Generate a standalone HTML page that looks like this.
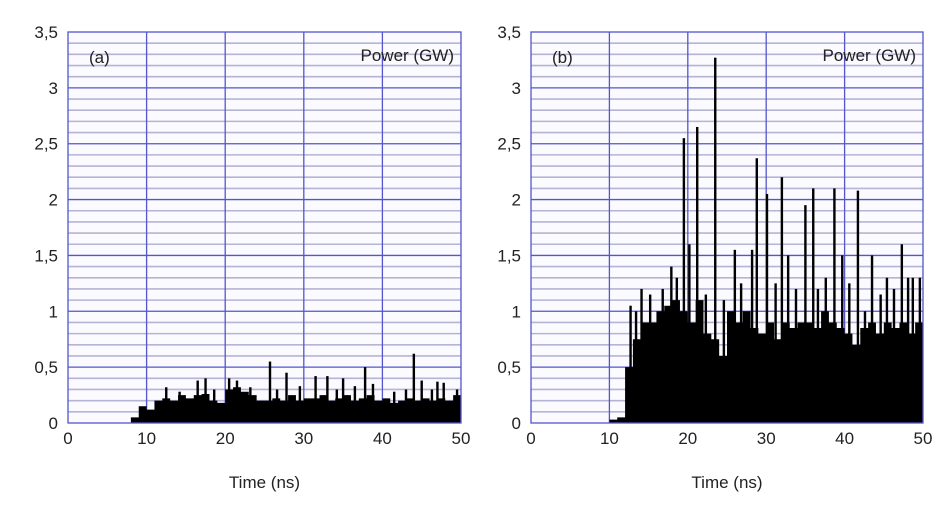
<!DOCTYPE html>
<html><head><meta charset="utf-8"><style>
body{margin:0;background:#fff;}
svg text{font-family:"Liberation Sans",Arial,sans-serif;font-size:17px;fill:#222;}
</style></head><body>
<svg id="chart" width="944" height="508" viewBox="0 0 944 508"></svg>
<script>
// ---- data ----
const xTicks=[0,10,20,30,40,50];
const yTicks=[0,0.5,1,1.5,2,2.5,3,3.5];
const yTickLabels=["0","0,5","1","1,5","2","2,5","3","3,5"];
// per-ns envelope (t = 0..49)
const baseA=[0,0,0,0,0,0,0,0,0.05,0.15,0.12,0.2,0.22,0.2,0.25,0.22,0.25,0.26,0.2,0.18,0.3,0.32,0.28,0.25,0.2,0.2,0.22,0.2,0.25,0.2,0.22,0.22,0.25,0.2,0.22,0.25,0.2,0.22,0.25,0.2,0.22,0.18,0.2,0.22,0.2,0.22,0.2,0.22,0.2,0.25];
const spikeTA=[12.5,14.2,16.5,17.5,18.6,20.5,21.5,23.2,25.7,26.6,27.8,29.5,31.5,33,34.2,35,36.5,37.8,38.8,41.5,43,44,45,46.3,47,47.8,49.5];
const spikeVA=[0.32,0.28,0.38,0.4,0.3,0.4,0.38,0.32,0.55,0.3,0.45,0.33,0.42,0.42,0.3,0.4,0.33,0.5,0.35,0.28,0.3,0.62,0.38,0.3,0.37,0.36,0.3];
const baseB=[0,0,0,0,0,0,0,0,0,0,0.03,0.05,0.5,0.75,0.9,0.9,1.0,1.05,1.1,1.0,0.9,1.1,0.8,0.75,0.6,1.0,0.9,1.0,0.85,0.8,0.9,0.75,0.9,0.85,0.9,0.9,0.85,1.0,0.9,0.85,0.8,0.7,0.85,0.9,0.8,0.9,0.85,0.9,0.8,0.9];
const spikeTB=[12.7,13.4,14.1,15.2,16.8,17.9,18.6,19.5,20.2,21.2,22.3,23.5,24.6,26,26.8,28.2,28.8,30.1,31.2,32,32.8,33.8,35,36,36.6,37.6,38.7,39.7,40.6,41.7,42.6,43.5,44.6,45.4,46.3,47.3,48.1,48.7,49.6];
const spikeVB=[1.05,1.0,1.2,1.15,1.2,1.4,1.3,2.55,1.6,2.65,1.15,3.27,1.1,1.55,1.25,1.55,2.37,2.05,1.25,2.2,1.5,1.2,1.95,2.1,1.2,1.3,2.1,1.5,1.25,2.08,1.0,1.5,1.15,1.3,1.2,1.6,1.3,1.3,1.3];

const NS="http://www.w3.org/2000/svg";
const svg=document.getElementById('chart');
function mk(tag,attrs,parent){const e=document.createElementNS(NS,tag);for(const k in attrs)e.setAttribute(k,attrs[k]);(parent||svg).appendChild(e);return e;}

function panel(x0,x1,label,base,sT,sV,key){
  const y0=423,y1=32;
  const X=t=>x0+(t/50)*(x1-x0);
  const Y=v=>y0-(v/3.5)*(y0-y1);
  const g=mk('g',{});
  
  
  mk('rect',{x:x0,y:y1,width:x1-x0,height:y0-y1,fill:'#fafaff'},g);
  for(let i=1;i<35;i++){
    const v=i*0.1;const major=(i%5===0);
    const l=mk('line',{x1:x0,x2:x1,y1:Y(v),y2:Y(v),stroke:major?'#5555cc':'#b4b4d4','stroke-width':major?1.3:1.6},g);
    
    
  }
  xTicks.forEach(t=>{
    if(t>0&&t<50){const l=mk('line',{x1:X(t),x2:X(t),y1:y1,y2:y0,stroke:'#5555cc','stroke-width':1.3},g);
    
    }
    const tx=mk('text',{x:X(t),y:444,'text-anchor':'middle'},g);tx.textContent=t;
    
    
  });
  yTicks.forEach((v,i)=>{
    const tx=mk('text',{x:x0-10,y:Y(v)+6,'text-anchor':'end'},g);tx.textContent=yTickLabels[i];
    
    
  });
  let d='M'+X(0)+','+Y(0);
  base.forEach((v,i)=>{d+=' L'+X(i)+','+Y(v)+' L'+X(i+1)+','+Y(v);});
  d+=' L'+X(50)+','+Y(0)+' Z';
  const a=mk('path',{d:d,fill:'#000'},g);
  
  
  sT.forEach((t,i)=>{
    const r=mk('rect',{x:Math.min(X(t)-1.2,x1-2.4),y:Y(sV[i]),width:2.4,height:Y(0)-Y(sV[i]),fill:'#000'},g);
    
    
  });
  mk('rect',{x:x0,y:y1,width:x1-x0,height:y0-y1,fill:'none',stroke:'#5555cc','stroke-width':1.3},g);
  const lb=mk('text',{x:x0+21,y:63},g);lb.textContent=label;
  
  
  const pw=mk('text',{x:x1-7,y:61,'text-anchor':'end'},g);pw.textContent='Power (GW)';
  
  
  const xt=mk('text',{x:(x0+x1)/2,y:488,'text-anchor':'middle'},g);xt.textContent='Time (ns)';
  
  
}
panel(68,461,'(a)',baseA,spikeTA,spikeVA,'a');
panel(531,923,'(b)',baseB,spikeTB,spikeVB,'b');
</script>
</body></html>
